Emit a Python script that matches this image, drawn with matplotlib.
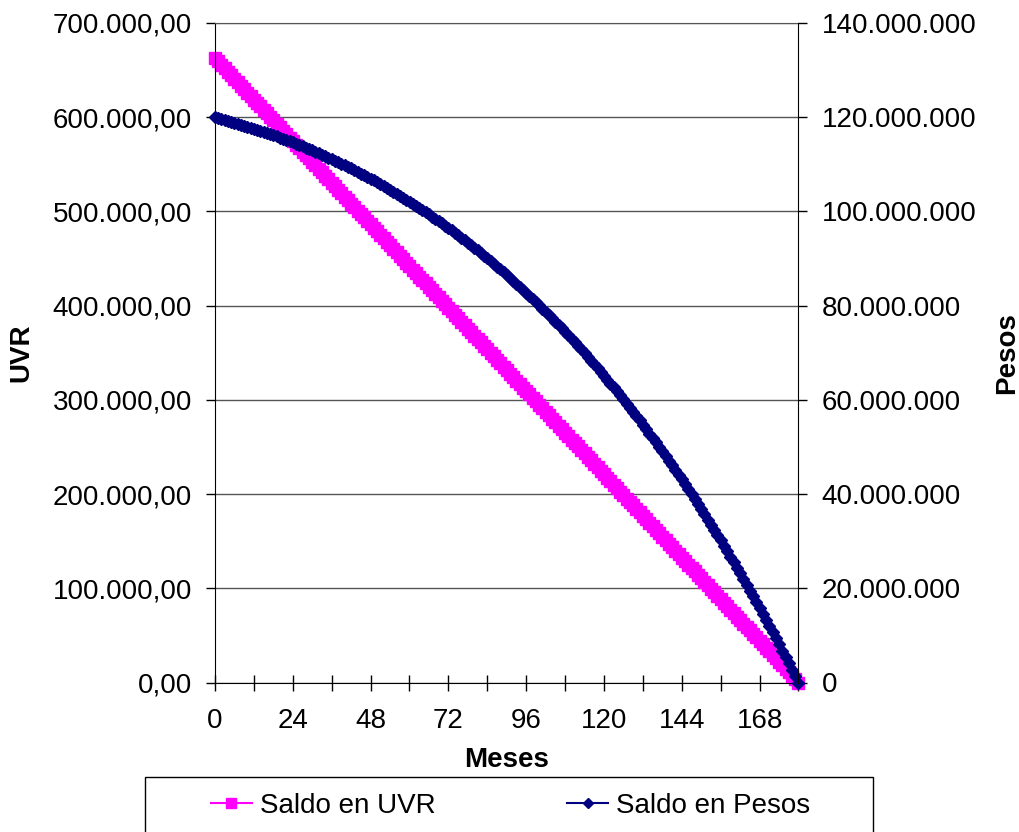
import matplotlib
matplotlib.use("Agg")
from matplotlib import pyplot as plt
from matplotlib.lines import Line2D
from matplotlib.patches import Rectangle
from matplotlib.ticker import FuncFormatter

plt.rcParams['font.family'] = ['Liberation Sans', 'DejaVu Sans']
plt.rcParams['font.size'] = 20

meses = list(range(0, 181))

# saldo en UVR, miles de UVR
saldo_uvr = [
    663.0, 659.3, 655.6, 652.0, 648.3, 644.6, 640.9, 637.2, 633.5, 629.9,
    626.2, 622.5, 618.8, 615.1, 611.4, 607.8, 604.1, 600.4, 596.7, 593.0,
    589.3, 585.7, 582.0, 578.3, 574.6, 570.9, 567.2, 563.5, 559.9, 556.2,
    552.5, 548.8, 545.1, 541.4, 537.8, 534.1, 530.4, 526.7, 523.0, 519.3,
    515.7, 512.0, 508.3, 504.6, 500.9, 497.2, 493.6, 489.9, 486.2, 482.5,
    478.8, 475.1, 471.5, 467.8, 464.1, 460.4, 456.7, 453.0, 449.4, 445.7,
    442.0, 438.3, 434.6, 430.9, 427.3, 423.6, 419.9, 416.2, 412.5, 408.8,
    405.2, 401.5, 397.8, 394.1, 390.4, 386.8, 383.1, 379.4, 375.7, 372.0,
    368.3, 364.7, 361.0, 357.3, 353.6, 349.9, 346.2, 342.6, 338.9, 335.2,
    331.5, 327.8, 324.1, 320.5, 316.8, 313.1, 309.4, 305.7, 302.0, 298.4,
    294.7, 291.0, 287.3, 283.6, 279.9, 276.3, 272.6, 268.9, 265.2, 261.5,
    257.8, 254.2, 250.5, 246.8, 243.1, 239.4, 235.7, 232.1, 228.4, 224.7,
    221.0, 217.3, 213.6, 210.0, 206.3, 202.6, 198.9, 195.2, 191.5, 187.9,
    184.2, 180.5, 176.8, 173.1, 169.4, 165.8, 162.1, 158.4, 154.7, 151.0,
    147.3, 143.7, 140.0, 136.3, 132.6, 128.9, 125.2, 121.6, 117.9, 114.2,
    110.5, 106.8, 103.1, 99.5, 95.8, 92.1, 88.4, 84.7, 81.0, 77.4,
    73.7, 70.0, 66.3, 62.6, 58.9, 55.3, 51.6, 47.9, 44.2, 40.5,
    36.8, 33.2, 29.5, 25.8, 22.1, 18.4, 14.7, 11.1, 7.4, 3.7,
    0.0,
]

# saldo en pesos, millones
saldo_pesos = [
    120.00, 119.81, 119.62, 119.44, 119.25, 119.06,
    118.87, 118.66, 118.45, 118.24, 118.02, 117.81,
    117.60, 117.37, 117.13, 116.90, 116.67, 116.43,
    116.20, 115.94, 115.69, 115.43, 115.17, 114.92,
    114.66, 114.38, 114.10, 113.81, 113.53, 113.25,
    112.97, 112.66, 112.36, 112.05, 111.74, 111.44,
    111.13, 110.80, 110.46, 110.13, 109.80, 109.46,
    109.13, 108.77, 108.41, 108.04, 107.68, 107.32,
    106.96, 106.57, 106.18, 105.79, 105.40, 105.01,
    104.62, 104.20, 103.78, 103.36, 102.94, 102.52,
    102.10, 101.65, 101.20, 100.74, 100.29, 99.84,
    99.39, 98.91, 98.42, 97.94, 97.46, 96.97,
    96.49, 95.97, 95.45, 94.94, 94.42, 93.90,
    93.38, 92.83, 92.27, 91.72, 91.16, 90.61,
    90.05, 89.46, 88.87, 88.28, 87.69, 87.10,
    86.51, 85.88, 85.25, 84.63, 84.00, 83.37,
    82.74, 82.07, 81.40, 80.73, 80.06, 79.39,
    78.72, 78.01, 77.30, 76.59, 75.88, 75.17,
    74.46, 73.71, 72.95, 72.20, 71.45, 70.69,
    69.94, 69.14, 68.35, 67.55, 66.75, 65.96,
    65.16, 64.32, 63.47, 62.63, 61.78, 60.94,
    60.09, 59.20, 58.30, 57.41, 56.52, 55.62,
    54.73, 53.79, 52.84, 51.90, 50.96, 50.01,
    49.07, 48.07, 47.08, 46.08, 45.09, 44.09,
    43.10, 42.05, 41.00, 39.95, 38.90, 37.85,
    36.80, 35.70, 34.59, 33.49, 32.38, 31.28,
    30.17, 29.01, 27.84, 26.68, 25.52, 24.35,
    23.19, 21.96, 20.74, 19.51, 18.29, 17.06,
    15.84, 14.55, 13.27, 11.98, 10.69, 9.41,
    8.12, 6.77, 5.41, 4.06, 2.71, 1.35,
    0.00,
]

x_ticks = list(range(0, 181, 12))
x_labels = [str(m) if m % 24 == 0 else '' for m in x_ticks]
uvr_ticks = list(range(0, 701, 100))
pesos_ticks = list(range(0, 141, 20))

PINK = '#FF00FF'
NAVY = '#000080'


def fmt_uvr(v, pos):
    s = f"{v * 1000:,.2f}"
    return s.replace(',', 'X').replace('.', ',').replace('X', '.')


def fmt_pesos(v, pos):
    return f"{v * 1e6:,.0f}".replace(',', '.')


W, H = 1020, 832
fig = plt.figure(figsize=(W / 100, H / 100), dpi=100)
ax = fig.add_axes([215 / W, 149.5 / H, 583.5 / W, 659.5 / H])

ax.plot(meses, saldo_uvr, color=PINK, marker='s', ms=8.4, mew=1, lw=2, clip_on=False)
ax.set_xlim(0, 180)
ax.set_ylim(0, 700)
ax.set_xticks(x_ticks)
ax.set_xticklabels(x_labels)
ax.set_yticks(uvr_ticks)
ax.yaxis.set_major_formatter(FuncFormatter(fmt_uvr))
ax.grid(axis='y', color='#555555', lw=1)
ax.tick_params(axis='x', direction='inout', length=12, width=1, pad=12)
ax.tick_params(axis='y', direction='out', length=6.5, width=1, pad=10)
ax.spines['top'].set_color('#555555')
ax.spines['right'].set_visible(False)
ax.set_xlabel('Meses', fontweight='bold', labelpad=10)
ax.set_ylabel('UVR', fontweight='bold', labelpad=13)

ax2 = ax.twinx()
ax2.plot(meses, saldo_pesos, color=NAVY, marker='D', ms=6.3, mew=1, lw=2.5, clip_on=False)
ax2.set_ylim(0, 140)
ax2.set_yticks(pesos_ticks)
ax2.yaxis.set_major_formatter(FuncFormatter(fmt_pesos))
ax2.tick_params(axis='y', direction='out', length=6.5, width=1, pad=10)
for side in ['top', 'left', 'bottom']:
    ax2.spines[side].set_visible(False)
ax2.set_ylabel('Pesos', fontweight='bold', labelpad=13)

handles = [
    Line2D([], [], color=PINK, marker='s', ms=7, mew=1, lw=1.5),
    Line2D([], [], color=NAVY, marker='D', ms=4.6, mew=1, lw=1.5),
]
fig.legend(handles, ['Saldo en UVR', 'Saldo en Pesos'], loc='center left',
           bbox_to_anchor=(211 / W, 1 - 806 / H), ncol=2, frameon=False,
           borderpad=0, borderaxespad=0, handlelength=1.47, handletextpad=0.29,
           columnspacing=4.75, numpoints=1)
fig.add_artist(Rectangle((145 / W, -0.05), (873 - 145) / W, (832 - 777) / H + 0.05,
                         transform=fig.transFigure, fill=False, edgecolor='black', lw=1))

fig.savefig('out.png', dpi=100)
